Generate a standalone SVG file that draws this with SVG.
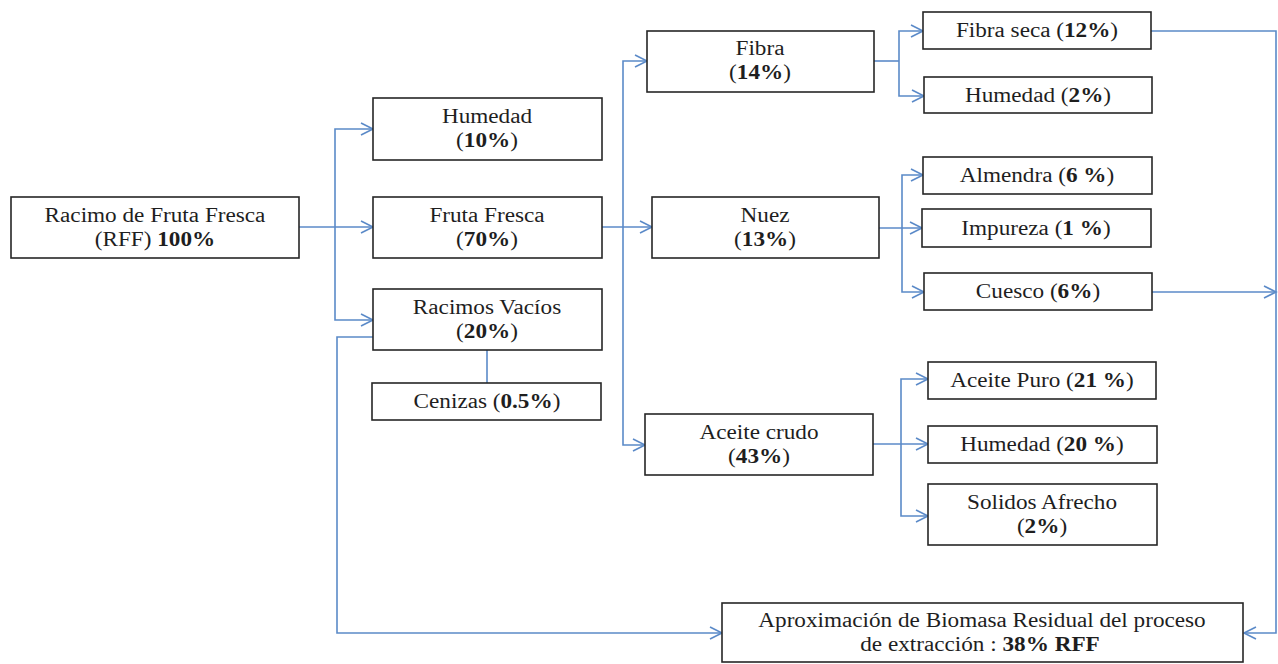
<svg xmlns="http://www.w3.org/2000/svg" width="1278" height="664" viewBox="0 0 1278 664">
<style>
.box{fill:#fff;stroke:#262626;stroke-width:1.6}
.t{font-family:"Liberation Serif","Times New Roman",serif;font-size:20px;fill:#1e1e1e;text-anchor:middle}
.b{font-weight:bold}
.c{fill:none;stroke:#5b8ac8;stroke-width:1.6}
</style>
<defs>
<marker id="ah" markerUnits="userSpaceOnUse" markerWidth="16" markerHeight="16" refX="13" refY="7" orient="auto">
<path d="M1,1 L13,7 L1,13" fill="none" stroke="#5b8ac8" stroke-width="1.6"/>
</marker>
</defs>
<rect width="1278" height="664" fill="#fff"/>
<g id="connectors">
<path class="c" d="M299,227 H373" marker-end="url(#ah)"/>
<path class="c" d="M335,227 V129 H373" marker-end="url(#ah)"/>
<path class="c" d="M335,227 V320 H373" marker-end="url(#ah)"/>
<path class="c" d="M373,337 H337 V633 H722" marker-end="url(#ah)"/>
<path class="c" d="M487,350 V383"/>
<path class="c" d="M602,227 H652" marker-end="url(#ah)"/>
<path class="c" d="M623,227 V61 H647" marker-end="url(#ah)"/>
<path class="c" d="M623,227 V445 H645" marker-end="url(#ah)"/>
<path class="c" d="M874,61 H899"/>
<path class="c" d="M899,61 V31 H923" marker-end="url(#ah)"/>
<path class="c" d="M899,61 V96 H924" marker-end="url(#ah)"/>
<path class="c" d="M879,228 H922" marker-end="url(#ah)"/>
<path class="c" d="M902,228 V175 H923" marker-end="url(#ah)"/>
<path class="c" d="M902,228 V292 H924" marker-end="url(#ah)"/>
<path class="c" d="M873,444 H928" marker-end="url(#ah)"/>
<path class="c" d="M901,444 V379 H928" marker-end="url(#ah)"/>
<path class="c" d="M901,444 V516 H928" marker-end="url(#ah)"/>
<path class="c" d="M1151,31 H1276 V633 H1244" marker-end="url(#ah)"/>
<path class="c" d="M1152,292 H1276" marker-end="url(#ah)"/>
</g>
<g id="rff">
<rect class="box" x="11" y="197" width="288" height="61"/>
<text class="t" transform="translate(155,222) scale(1.16,1)">Racimo de Fruta Fresca</text>
<text class="t" transform="translate(155,246) scale(1.16,1)">(RFF) <tspan class="b">100%</tspan></text>
</g>
<g id="humedad10">
<rect class="box" x="373" y="98" width="229" height="62"/>
<text class="t" transform="translate(487,123) scale(1.16,1)">Humedad</text>
<text class="t" transform="translate(487,147) scale(1.16,1)">(<tspan class="b">10%</tspan>)</text>
</g>
<g id="fruta">
<rect class="box" x="373" y="197" width="229" height="61"/>
<text class="t" transform="translate(487,222) scale(1.16,1)">Fruta Fresca</text>
<text class="t" transform="translate(487,246) scale(1.16,1)">(<tspan class="b">70%</tspan>)</text>
</g>
<g id="racimos">
<rect class="box" x="373" y="289" width="229" height="61"/>
<text class="t" transform="translate(487,314) scale(1.16,1)">Racimos Vacíos</text>
<text class="t" transform="translate(487,338) scale(1.16,1)">(<tspan class="b">20%</tspan>)</text>
</g>
<g id="cenizas">
<rect class="box" x="372" y="383" width="229" height="37"/>
<text class="t" transform="translate(487,408) scale(1.16,1)">Cenizas (<tspan class="b">0.5%</tspan>)</text>
</g>
<g id="fibra">
<rect class="box" x="647" y="31" width="227" height="61"/>
<text class="t" transform="translate(760,55) scale(1.16,1)">Fibra</text>
<text class="t" transform="translate(760,79) scale(1.16,1)">(<tspan class="b">14%</tspan>)</text>
</g>
<g id="nuez">
<rect class="box" x="652" y="197" width="227" height="61"/>
<text class="t" transform="translate(765,222) scale(1.16,1)">Nuez</text>
<text class="t" transform="translate(765,246) scale(1.16,1)">(<tspan class="b">13%</tspan>)</text>
</g>
<g id="aceitecrudo">
<rect class="box" x="645" y="414" width="228" height="61"/>
<text class="t" transform="translate(759,439) scale(1.16,1)">Aceite crudo</text>
<text class="t" transform="translate(759,463) scale(1.16,1)">(<tspan class="b">43%</tspan>)</text>
</g>
<g id="fibraseca">
<rect class="box" x="923" y="12" width="228" height="37"/>
<text class="t" transform="translate(1037,37) scale(1.16,1)">Fibra seca (<tspan class="b">12%</tspan>)</text>
</g>
<g id="humedad2">
<rect class="box" x="924" y="77" width="228" height="36"/>
<text class="t" transform="translate(1038,102) scale(1.16,1)">Humedad (<tspan class="b">2%</tspan>)</text>
</g>
<g id="almendra">
<rect class="box" x="923" y="157" width="229" height="37"/>
<text class="t" transform="translate(1037,182) scale(1.16,1)">Almendra (<tspan class="b">6 %</tspan>)</text>
</g>
<g id="impureza">
<rect class="box" x="922" y="209" width="229" height="38"/>
<text class="t" transform="translate(1036,235) scale(1.16,1)">Impureza (<tspan class="b">1 %</tspan>)</text>
</g>
<g id="cuesco">
<rect class="box" x="924" y="273" width="228" height="37"/>
<text class="t" transform="translate(1038,298) scale(1.16,1)">Cuesco (<tspan class="b">6%</tspan>)</text>
</g>
<g id="aceitepuro">
<rect class="box" x="928" y="362" width="228" height="37"/>
<text class="t" transform="translate(1042,387) scale(1.16,1)">Aceite Puro (<tspan class="b">21 %</tspan>)</text>
</g>
<g id="humedad20">
<rect class="box" x="928" y="426" width="229" height="37"/>
<text class="t" transform="translate(1042,451) scale(1.16,1)">Humedad (<tspan class="b">20 %</tspan>)</text>
</g>
<g id="solidos">
<rect class="box" x="928" y="484" width="229" height="61"/>
<text class="t" transform="translate(1042,509) scale(1.16,1)">Solidos Afrecho</text>
<text class="t" transform="translate(1042,533) scale(1.16,1)">(<tspan class="b">2%</tspan>)</text>
</g>
<g id="aproximacion">
<rect class="box" x="722" y="603" width="521" height="59"/>
<text class="t" transform="translate(982,627) scale(1.16,1)">Aproximación de Biomasa Residual del proceso</text>
<text class="t" transform="translate(980,651) scale(1.16,1)">de extracción : <tspan class="b">38% RFF</tspan></text>
</g>
</svg>
